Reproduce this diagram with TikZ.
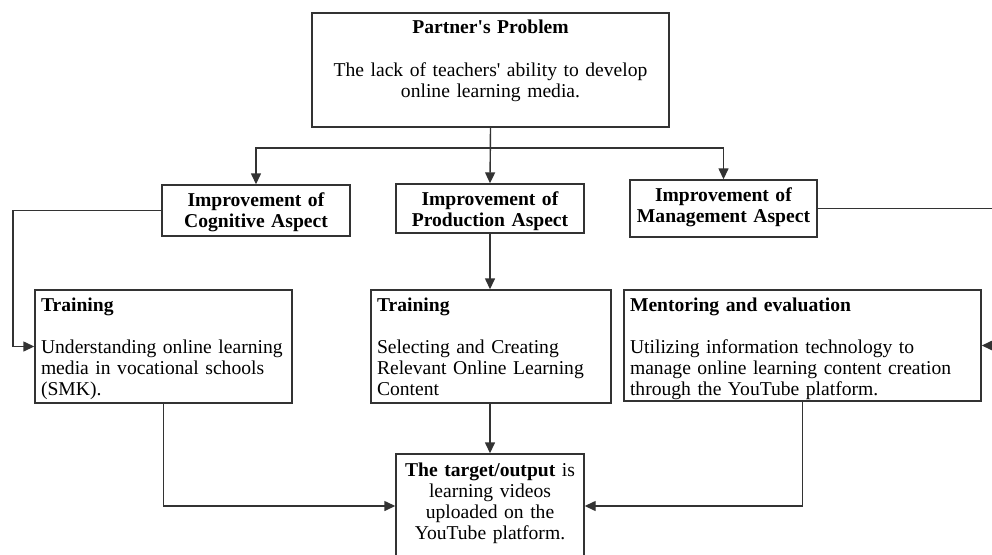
\documentclass[tikz,border=0pt]{standalone}
\usepackage{fontspec}
\setmainfont{Liberation Serif}
\usepackage{tikz}
\usetikzlibrary{arrows.meta}
\tikzset{block/.style={draw=black!80, line width=1.4pt, inner xsep=6pt, inner ysep=2pt, font=\fontsize{19.6}{21}\selectfont}}
\newcommand{\pbblock}[4] {\node at (#1) (#2) [block, #3] {#4};}
\newcommand{\pblink}[1] {\draw [-{Triangle[length=11pt,width=10pt]}, line width=1.4pt, draw=black!80] #1;}

\begin{document}
\begin{tikzpicture}[x=1pt,y=-1pt]
\useasboundingbox (0,0) rectangle (992,554);
\clip (0,0) rectangle (992,554);

\pbblock {490.5,70} {prob} {minimum width=357pt, text width=345pt, text height=18pt, text depth=92pt, align=center}
  {\textbf{Partner\textquotesingle s Problem}\\[22pt] The lack of teachers\textquotesingle{} ability to develop\\ online learning media.};

\pbblock {256,210.5} {cog} {minimum width=188pt, text width=176pt, text height=19.5pt, text depth=27.5pt, align=center}
  {\textbf{Improvement of}\\ \textbf{Cognitive Aspect}};
\pbblock {490,208.5} {prod} {minimum width=188pt, text width=176pt, text height=19.7pt, text depth=25.3pt, align=center}
  {\textbf{Improvement of}\\ \textbf{Production Aspect}};
\pbblock {723.5,208.5} {mgmt} {minimum width=187pt, text width=175pt, text height=19pt, text depth=34pt, align=center}
  {\textbf{Improvement of}\\ \textbf{Management Aspect}};

\pbblock {163.5,346.5} {train1} {minimum width=257pt, text width=245pt, text height=19pt, text depth=90pt, align=left}
  {\textbf{Training}\\[21pt] Understanding online learning\\ media in vocational schools\\ (SMK).};
\pbblock {491,346.5} {train2} {minimum width=240pt, text width=228pt, text height=19pt, text depth=90pt, align=left}
  {\textbf{Training}\\[21pt] Selecting and Creating\\ Relevant Online Learning\\ Content};
\pbblock {802.5,345.5} {mentor} {minimum width=357pt, text width=345pt, text height=19pt, text depth=88pt, align=left}
  {\textbf{Mentoring and evaluation}\\[21pt] Utilizing information technology to\\ manage online learning content creation\\ through the YouTube platform.};

\pbblock {490,513.5} {target} {minimum width=188pt, text width=176pt, text height=20pt, text depth=95pt, align=center}
  {\textbf{The target/output} is\\ learning videos\\ uploaded on the\\ YouTube platform.};

\coordinate (fork) at (490,148);
\coordinate (leftrun) at (13,280);
\coordinate (rightrun) at (1000,280);

\pblink{(prob.south) -- (prod.north)};
\pblink{(fork) -| (cog.north)};
\pblink{(fork) -| (mgmt.north)};
\pblink{(cog.west) -| (leftrun) |- (train1.west)};
\pblink{(mgmt.east) -| (rightrun) |- (mentor.east)};
\pblink{(prod.south) -- (prod.south |- train2.north)};
\pblink{(target.north |- train2.south) -- (target.north)};
\pblink{(train1.south) |- ([yshift=7.5pt]target.west)};
\pblink{(mentor.south) |- ([yshift=7.5pt]target.east)};
\end{tikzpicture}
\end{document}
